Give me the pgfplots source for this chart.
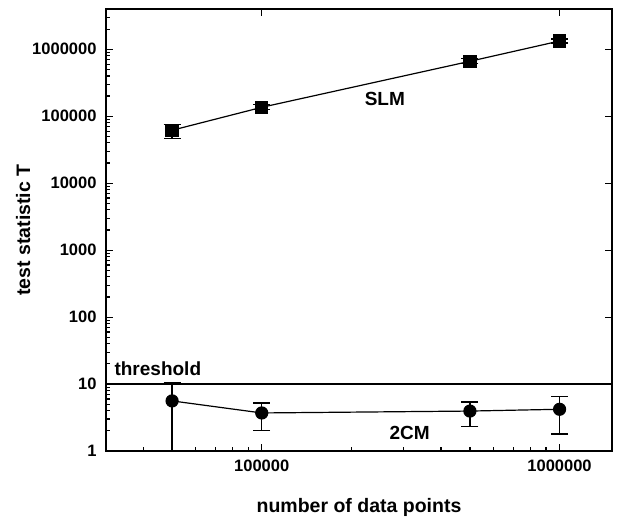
\documentclass[border=0pt]{standalone}
\usepackage{fontspec}
\setmainfont{Liberation Sans}
\usepackage{pgfplots}
\pgfplotsset{compat=1.18}
\begin{document}
\begin{tikzpicture}
\path (-106pt,-65pt) rectangle (516pt,451pt);
\begin{axis}[
  scale only axis, width=506pt, height=442pt,
  xmode=log, ymode=log,
  xmin=3e4, xmax=1.5e6, ymin=1, ymax=4e6,
  log ticks with fixed point,
  /pgf/number format/1000 sep={},
  /pgf/number format/assume math mode=true,
  xtick pos=left, ytick pos=left,
  tick align=inside,
  major tick length=7pt, minor tick length=4pt,
  tick style={black, line width=1.2pt},
  ticklabel style={font=\fontsize{16.5}{19}\selectfont\bfseries},
  xticklabel shift=5pt, yticklabel shift=6pt,
  label style={font=\fontsize{19.5}{23}\selectfont\bfseries},
  xlabel={number of data points},
  ylabel={test statistic T},
  xlabel style={yshift=-20pt},
  ylabel style={yshift=-5pt},
  axis line style={line width=1.3pt},
]
\addplot[black, line width=1.2pt] coordinates {(3e4,10) (1.5e6,10)};
\addplot[black, line width=1.2pt, mark=square*, mark size=6pt,
  error bars/.cd, y dir=both, y explicit,
  error mark options={rotate=90, mark size=8.5pt, line width=1.2pt},
  error bar style={line width=1.2pt}]
  coordinates {
  (5e4,61800) -= (0,14800) += (0,14200)
  (1e5,136000) -= (0,11000) += (0,12000)
  (5e5,662000) -= (0,54000) += (0,58000)
  (1e6,1330000) -= (0,90000) += (0,100000)
};
\addplot[black, line width=1.2pt, mark=*, mark size=6pt,
  error bars/.cd, y dir=both, y explicit,
  error mark options={rotate=90, mark size=8.5pt, line width=1.2pt},
  error bar style={line width=1.2pt}]
  coordinates {
  (5e4,5.6) -= (0,5.5) += (0,4.8)
  (1e5,3.7) -= (0,1.7) += (0,1.5)
  (5e5,3.95) -= (0,1.6) += (0,1.45)
  (1e6,4.2) -= (0,2.4) += (0,2.4)
};
\node[font=\fontsize{19}{22}\selectfont\bfseries] at (axis cs:2.59e5,1.8e5) {SLM};
\node[font=\fontsize{19}{22}\selectfont\bfseries] at (axis cs:3.14e5,1.86) {2CM};
\node[font=\fontsize{19}{22}\selectfont\bfseries, anchor=base west, inner sep=0pt] at (axis cs:3.2e4,13.6) {threshold};
\end{axis}
\begin{axis}[
  scale only axis, width=506pt, height=442pt,
  xmode=log, ymode=log,
  xmin=3e4, xmax=1.5e6, ymin=1, ymax=4e6,
  xtick pos=right, ytick pos=right, tick align=inside,
  xticklabels={}, yticklabels={},
  major tick length=7pt, minor tick length=0pt,
  tick style={black, line width=1.2pt},
  axis line style={draw=none},
]
\end{axis}
\end{tikzpicture}
\end{document}
